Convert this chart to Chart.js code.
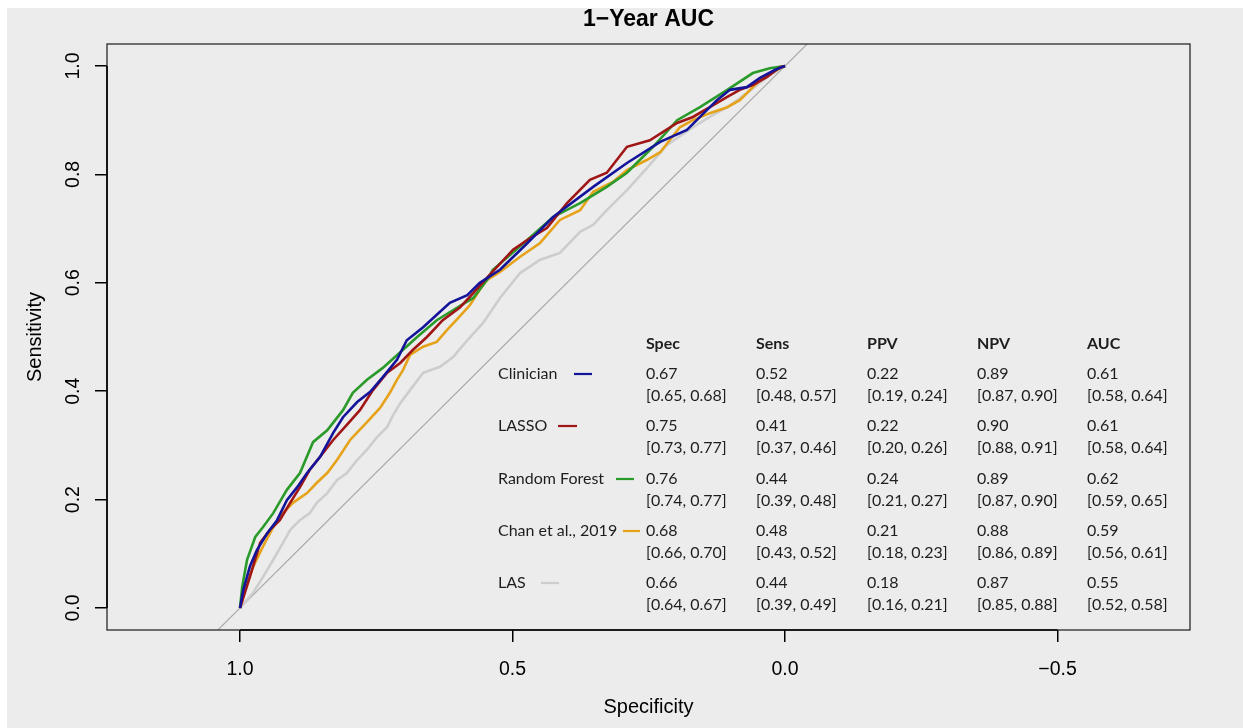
<!DOCTYPE html>
<html><head><meta charset="utf-8">
<script src="https://cdn.jsdelivr.net/npm/chart.js@4"></script>
<style>
html,body{margin:0;padding:0;background:#ffffff;}
#wrap{position:absolute;left:7px;top:8px;width:1236px;height:720px;}
canvas{display:block;}
</style></head><body>
<div id="wrap"><canvas id="c" width="1236" height="720"></canvas></div>
<script>
// ---------- data ----------
const xTickValues = [1.0, 0.5, 0.0, -0.5];
const xTickLabels = ["1.0", "0.5", "0.0", "\u22120.5"];
const yTickValues = [0.0, 0.2, 0.4, 0.6, 0.8, 1.0];
const yTickLabels = ["0.0", "0.2", "0.4", "0.6", "0.8", "1.0"];

const modelNames = ["Clinician", "LASSO", "Random Forest", "Chan et al., 2019", "LAS"];
const modelColors = ["#14149a", "#a01515", "#2a9a2a", "#e6a31a", "#cdcdcd"];

const tableHeaders = ["Spec", "Sens", "PPV", "NPV", "AUC"];
const specVals = ["0.67", "0.75", "0.76", "0.68", "0.66"];
const specCI   = ["[0.65, 0.68]", "[0.73, 0.77]", "[0.74, 0.77]", "[0.66, 0.70]", "[0.64, 0.67]"];
const sensVals = ["0.52", "0.41", "0.44", "0.48", "0.44"];
const sensCI   = ["[0.48, 0.57]", "[0.37, 0.46]", "[0.39, 0.48]", "[0.43, 0.52]", "[0.39, 0.49]"];
const ppvVals  = ["0.22", "0.22", "0.24", "0.21", "0.18"];
const ppvCI    = ["[0.19, 0.24]", "[0.20, 0.26]", "[0.21, 0.27]", "[0.18, 0.23]", "[0.16, 0.21]"];
const npvVals  = ["0.89", "0.90", "0.89", "0.88", "0.87"];
const npvCI    = ["[0.87, 0.90]", "[0.88, 0.91]", "[0.87, 0.90]", "[0.86, 0.89]", "[0.85, 0.88]"];
const aucVals  = ["0.61", "0.61", "0.62", "0.59", "0.55"];
const aucCI    = ["[0.58, 0.64]", "[0.58, 0.64]", "[0.59, 0.65]", "[0.56, 0.61]", "[0.52, 0.58]"];

// ROC curves (specificity, sensitivity)
const clinicianSpec = [1,0.994,0.982,0.969,0.950,0.932,0.914,0.895,0.877,0.853,0.829,0.811,0.785,0.761,0.738,0.712,0.694,0.664,0.639,0.615,0.583,0.560,0.523,0.473,0.426,0.413,0.352,0.290,0.229,0.180,0.156,0.125,0.101,0.070,0.046,0.018,0];
const clinicianSens = [0,0.033,0.076,0.107,0.138,0.162,0.199,0.223,0.249,0.279,0.323,0.352,0.380,0.399,0.426,0.458,0.494,0.518,0.541,0.563,0.577,0.600,0.624,0.673,0.721,0.731,0.777,0.821,0.860,0.882,0.906,0.937,0.956,0.961,0.978,0.993,1];

const lassoSpec = [1,0.982,0.963,0.945,0.927,0.908,0.890,0.872,0.853,0.829,0.804,0.780,0.756,0.730,0.706,0.683,0.657,0.628,0.596,0.572,0.547,0.499,0.473,0.437,0.400,0.358,0.327,0.290,0.248,0.198,0.169,0.138,0.106,0.083,0.059,0.033,0.009,0];
const lassoSens = [0,0.057,0.120,0.144,0.162,0.194,0.223,0.255,0.279,0.310,0.338,0.365,0.402,0.434,0.452,0.476,0.500,0.531,0.555,0.581,0.609,0.661,0.679,0.701,0.747,0.790,0.803,0.851,0.863,0.895,0.906,0.924,0.943,0.956,0.965,0.980,0.998,1];

const rfSpec = [1,0.996,0.987,0.972,0.958,0.939,0.914,0.890,0.866,0.840,0.811,0.793,0.767,0.738,0.706,0.675,0.639,0.602,0.572,0.547,0.536,0.473,0.426,0.376,0.327,0.290,0.242,0.198,0.156,0.106,0.059,0.028,0];
const rfSens = [0,0.039,0.089,0.131,0.149,0.175,0.218,0.249,0.306,0.328,0.365,0.397,0.421,0.443,0.472,0.500,0.531,0.554,0.572,0.605,0.624,0.679,0.721,0.747,0.777,0.803,0.851,0.900,0.924,0.956,0.987,0.996,1];

const chanSpec = [1,0.987,0.976,0.958,0.939,0.921,0.903,0.877,0.859,0.840,0.822,0.798,0.767,0.743,0.725,0.712,0.701,0.688,0.664,0.639,0.620,0.596,0.578,0.560,0.547,0.523,0.486,0.450,0.413,0.376,0.352,0.316,0.290,0.253,0.229,0.193,0.169,0.138,0.106,0.083,0.064,0.046,0.028,0];
const chanSens = [0,0.046,0.076,0.113,0.149,0.175,0.194,0.212,0.231,0.249,0.273,0.310,0.343,0.369,0.397,0.421,0.439,0.467,0.482,0.491,0.513,0.539,0.559,0.587,0.605,0.620,0.648,0.673,0.716,0.734,0.768,0.786,0.808,0.827,0.841,0.887,0.900,0.913,0.924,0.937,0.956,0.974,0.987,1];

const lasSpec = [1,0.976,0.958,0.939,0.921,0.908,0.890,0.872,0.859,0.840,0.822,0.804,0.785,0.767,0.749,0.730,0.719,0.706,0.688,0.664,0.633,0.609,0.583,0.554,0.523,0.486,0.450,0.413,0.376,0.352,0.327,0.290,0.253,0.217,0.169,0.138,0.106,0.070,0.046,0.022,0];
const lasSens = [0,0.028,0.057,0.089,0.120,0.144,0.162,0.175,0.194,0.212,0.236,0.249,0.273,0.292,0.315,0.334,0.356,0.378,0.402,0.434,0.445,0.463,0.494,0.526,0.572,0.618,0.642,0.655,0.694,0.707,0.734,0.771,0.812,0.854,0.887,0.906,0.924,0.950,0.969,0.987,1];

const curveSpec = [clinicianSpec, lassoSpec, rfSpec, chanSpec, lasSpec];
const curveSens = [clinicianSens, lassoSens, rfSens, chanSens, lasSens];

// ---------- layout (canvas coordinates) ----------
const OFF_X = 7, OFF_Y = 8;
const tableLabelX = 498 - OFF_X;
const tableColX = [646, 756, 867, 977, 1087].map(v => v - OFF_X);
const tableHeaderY = 344 - OFF_Y;
const tableRowY = [374, 426, 479, 531, 583].map(v => v - OFF_Y);
const legendLineX = [[574, 592], [558, 577], [616, 634], [623, 640], [541, 559]].map(p => [p[0] - OFF_X, p[1] - OFF_X]);

const tableFont = "Lato, 'Open Sans', sans-serif";
const axisFont = "'Liberation Sans', Arial, sans-serif";

const datasets = curveSpec.map((sp, k) => ({
  label: modelNames[k],
  data: sp.map((s, i) => ({x: s, y: curveSens[k][i]})),
  borderColor: modelColors[k],
  borderWidth: 2.6,
  showLine: true,
  pointRadius: 0,
  tension: 0,
  fill: false
}));
datasets.push({
  label: 'diagonal',
  data: [{x: 1.1, y: -0.1}, {x: -0.1, y: 1.1}],
  borderColor: '#a9a9a9',
  borderWidth: 1.2,
  showLine: true,
  pointRadius: 0,
  fill: false
});

const decorPlugin = {
  id: 'decor',
  beforeDraw(chart) {
    const ctx = chart.ctx;
    ctx.save();
    ctx.fillStyle = '#ececec';
    ctx.fillRect(0, 0, chart.width, chart.height);
    ctx.restore();
  },
  afterDraw(chart) {
    const ctx = chart.ctx;
    const a = chart.chartArea;
    const xs = chart.scales.x, ys = chart.scales.y;
    ctx.save();
    // box
    ctx.strokeStyle = '#2a2a2a';
    ctx.lineWidth = 1.3;
    ctx.strokeRect(a.left, a.top, a.right - a.left, a.bottom - a.top);
    // axis lines (from first to last tick)
    ctx.strokeStyle = '#000';
    ctx.lineWidth = 1.6;
    ctx.beginPath();
    ctx.moveTo(xs.getPixelForValue(xTickValues[0]), a.bottom);
    ctx.lineTo(xs.getPixelForValue(xTickValues[xTickValues.length - 1]), a.bottom);
    ctx.moveTo(a.left, ys.getPixelForValue(yTickValues[0]));
    ctx.lineTo(a.left, ys.getPixelForValue(yTickValues[yTickValues.length - 1]));
    ctx.stroke();

    // title
    ctx.fillStyle = '#000';
    ctx.font = "bold 23px " + axisFont;
    ctx.textAlign = 'center';
    ctx.textBaseline = 'middle';
    ctx.fillText("1\u2212Year AUC", (a.left + a.right) / 2, 20 - OFF_Y);

    // table
    ctx.textAlign = 'left';
    ctx.fillStyle = '#1e1e1e';
    ctx.font = "bold 16px " + tableFont;
    tableHeaders.forEach((h, j) => ctx.fillText(h, tableColX[j], tableHeaderY));
    ctx.font = "16px " + tableFont;
    const vals = [specVals, sensVals, ppvVals, npvVals, aucVals];
    const cis = [specCI, sensCI, ppvCI, npvCI, aucCI];
    modelNames.forEach((name, i) => {
      const y = tableRowY[i];
      ctx.fillStyle = '#1e1e1e';
      ctx.fillText(name, tableLabelX, y);
      for (let j = 0; j < 5; j++) {
        ctx.fillText(vals[j][i], tableColX[j], y);
        ctx.fillText(cis[j][i], tableColX[j], y + 22);
      }
      ctx.strokeStyle = modelColors[i];
      ctx.lineWidth = 2.2;
      ctx.beginPath();
      ctx.moveTo(legendLineX[i][0], y);
      ctx.lineTo(legendLineX[i][1], y);
      ctx.stroke();
    });
    ctx.restore();
  }
};

new Chart(document.getElementById('c'), {
  type: 'scatter',
  data: { datasets },
  options: {
    responsive: false,
    animation: false,
    events: [],
    layout: { padding: { left: 0, top: 36, right: 53, bottom: 0 } },
    plugins: { legend: { display: false }, tooltip: { enabled: false }, title: { display: false } },
    scales: {
      x: {
        type: 'linear', reverse: true, min: -0.743, max: 1.244,
        afterBuildTicks: s => { s.ticks = xTickValues.map(v => ({value: v})); },
        afterFit: s => { s.height = 98; },
        ticks: {
          callback: (v, i) => xTickLabels[i],
          color: '#000', font: { family: axisFont, size: 19.5 },
          padding: 16, maxRotation: 0, minRotation: 0, autoSkip: false
        },
        grid: { display: true, drawOnChartArea: false, drawTicks: true, tickLength: 12, color: '#000', lineWidth: 1.5 },
        border: { display: false },
        title: { display: true, text: 'Specificity', color: '#000', font: { family: axisFont, size: 20 }, padding: { top: 0, bottom: 9 } }
      },
      y: {
        type: 'linear', min: -0.0406, max: 1.0406,
        afterBuildTicks: s => { s.ticks = yTickValues.map(v => ({value: v})); },
        afterFit: s => { s.width = 100; },
        ticks: {
          callback: (v, i) => yTickLabels[i],
          color: '#000', font: { family: axisFont, size: 19.5 },
          padding: 8, minRotation: 90, maxRotation: 90, crossAlign: 'center', autoSkip: false
        },
        grid: { display: true, drawOnChartArea: false, drawTicks: true, tickLength: 12, color: '#000', lineWidth: 1.5 },
        border: { display: false },
        title: { display: true, text: 'Sensitivity', color: '#000', font: { family: axisFont, size: 20 }, padding: { top: 16, bottom: 0 } }
      }
    }
  },
  plugins: [decorPlugin]
});
</script>
</body></html>
